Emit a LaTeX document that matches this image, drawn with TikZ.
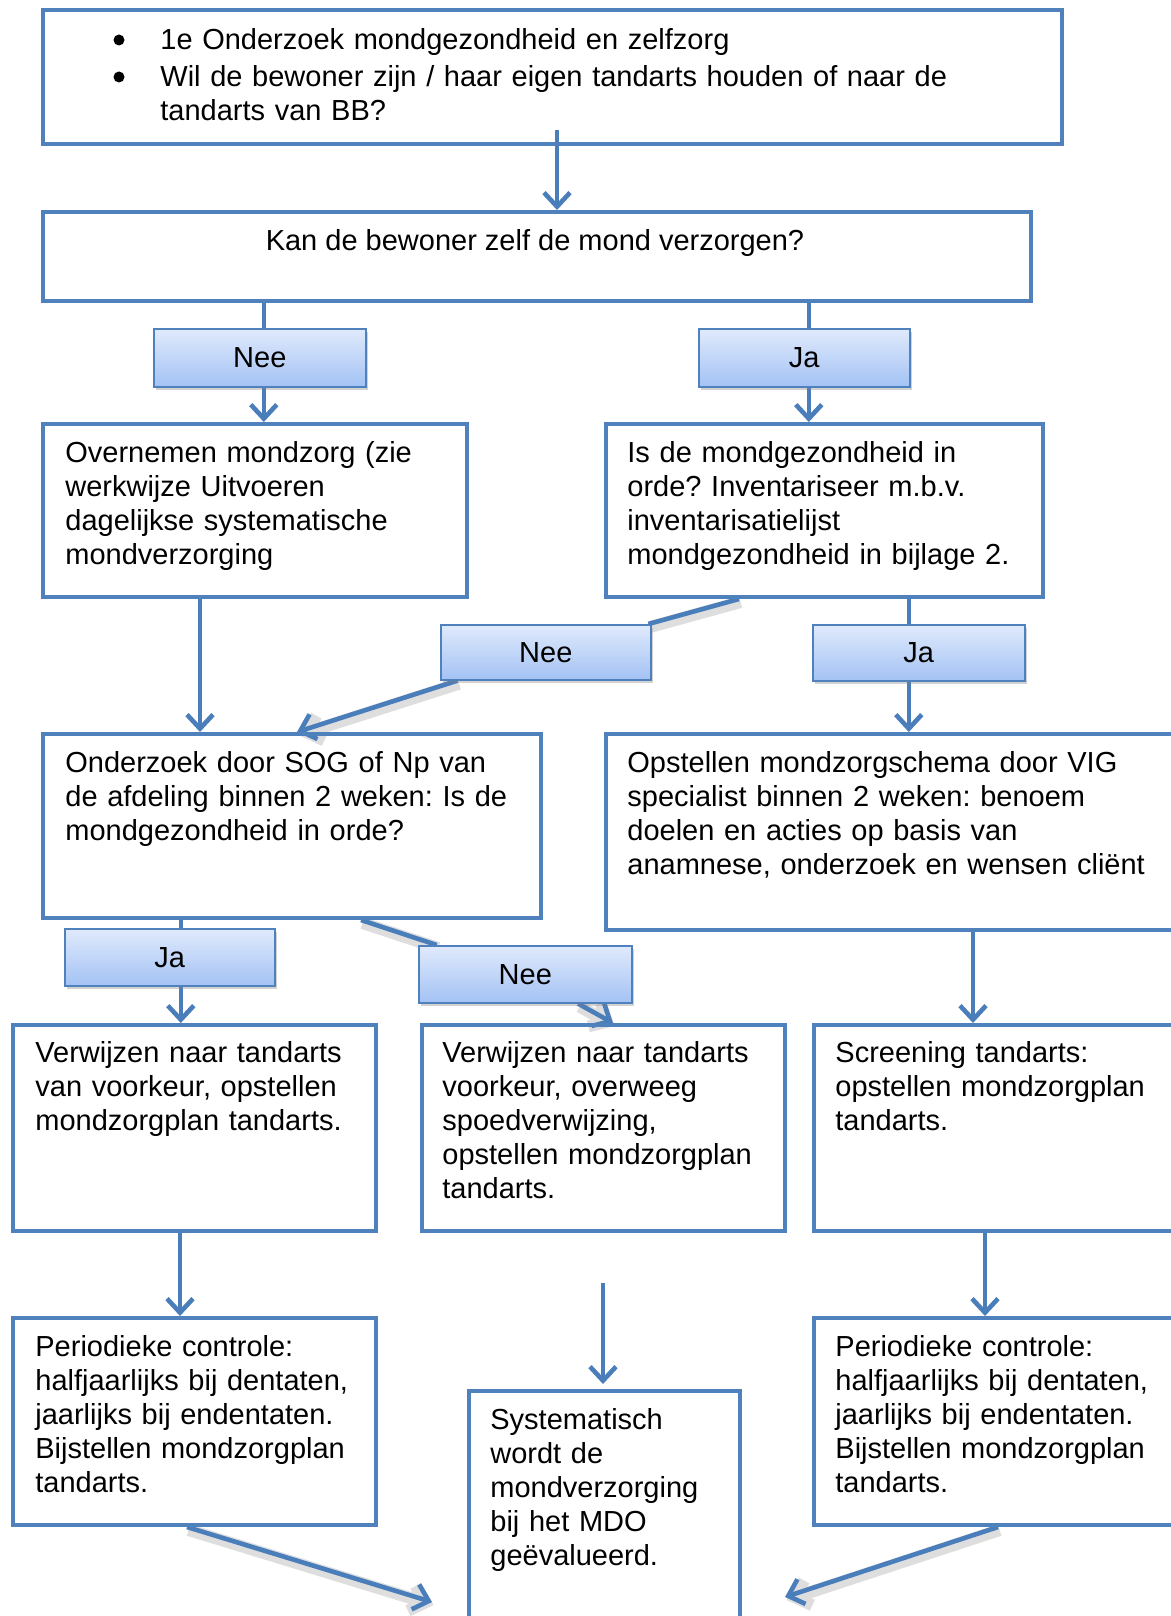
\documentclass[tikz,border=0pt]{standalone}
\usepackage{fontspec}
\setmainfont{Liberation Sans}
\usetikzlibrary{arrows.meta,calc,shadows,backgrounds}
\definecolor{boxblue}{HTML}{4F81BD}
\definecolor{linkblue}{HTML}{4A7EBB}
\definecolor{lbltop}{HTML}{E0EAFC}
\definecolor{lblbot}{HTML}{A3C2F4}
\frenchspacing
\begin{document}
\begin{tikzpicture}[x=0.5pt,y=-0.5pt,
  box/.style={draw=boxblue, line width=2pt, rectangle, inner sep=0pt, anchor=north west},
  sz/.style 2 args={minimum width=#1*0.5pt, minimum height=#2*0.5pt},
  lbl/.style={rectangle, draw=boxblue, line width=0.8pt, top color=lbltop, bottom color=lblbot,
     anchor=north west, inner sep=0pt, font={\fontsize{14.5}{17}\selectfont},
     drop shadow={opacity=0.35, shadow xshift=1pt, shadow yshift=-1.5pt}},
  txt/.style={anchor=base west, inner sep=0pt, text width=560pt, align=left,
     font={\fontsize{14.5}{17}\selectfont}},
  link/.style={draw=linkblue, line width=2.3pt},
  arr/.style={link, -{Straight Barb[length=7pt,width=13pt]}},
  halo/.style={preaction={draw=black!13, line width=6pt, transform canvas={xshift=0.8pt,yshift=-1.5pt}}},
]
\useasboundingbox (0,0) rectangle (1171,1616);
\clip (0,0) rectangle (1171,1616);

% boxes
\node[box, sz={1019}{134}] (b1) at (41,8) {};
\node[box, sz={988}{89}]   (b2) at (41,210) {};
\node[box, sz={424}{173}]  (b3) at (41,422) {};
\node[box, sz={437}{173}]  (b4) at (604,422) {};
\node[box, sz={498}{184}]  (b5) at (41,732) {};
\node[box, sz={590}{196}]  (b6) at (604,732) {};
\node[box, sz={363}{206}]  (b7) at (11,1023) {};
\node[box, sz={363}{206}]  (b8) at (420,1023) {};
\node[box, sz={380}{206}]  (b9) at (812,1023) {};
\node[box, sz={363}{207}]  (b10) at (11,1316) {};
\node[box, sz={271}{260}]  (b11) at (467,1389) {};
\node[box, sz={380}{207}]  (b12) at (812,1316) {};

% labels
\node[lbl, sz={212}{58}] (nee1) at (153,328) {Nee};
\node[lbl, sz={211}{58}] (ja1) at (698,328) {Ja};
\node[lbl, sz={210}{55}] (nee2) at (440,624) {Nee};
\node[lbl, sz={212}{56}] (ja2) at (812,624) {Ja};
\node[lbl, sz={210}{57}] (ja3) at (64,928) {Ja};
\node[lbl, sz={213}{57}] (nee3) at (418,945) {Nee};

% texts
\fill (119,40) circle (5.5);
\fill (119,77) circle (5.5);
\node[txt] (t1) at (160,50) {1e Onderzoek mondgezondheid en zelfzorg\\[1.2pt]Wil de bewoner zijn / haar eigen tandarts houden of naar de\\tandarts van BB?};
\node[anchor=base, inner sep=0pt, font={\fontsize{14.5}{17}\selectfont}] (t2) at (535,250) {Kan de bewoner zelf de mond verzorgen?};
\node[txt] (t3) at (65,462) {Overnemen mondzorg (zie\\werkwijze Uitvoeren\\dagelijkse systematische\\mondverzorging};
\node[txt] (t4) at (627,462) {Is de mondgezondheid in\\orde? Inventariseer m.b.v.\\inventarisatielijst\\mondgezondheid in bijlage 2.};
\node[txt] (t5) at (65,772) {Onderzoek door SOG of Np van\\de afdeling binnen 2 weken: Is de\\mondgezondheid in orde?};
\node[txt] (t6) at (627,772) {Opstellen mondzorgschema door VIG\\specialist binnen 2 weken: benoem\\doelen en acties op basis van\\anamnese, onderzoek en wensen cliënt};
\node[txt] (t7) at (35,1062) {Verwijzen naar tandarts\\van voorkeur, opstellen\\mondzorgplan tandarts.};
\node[txt] (t8) at (442,1062) {Verwijzen naar tandarts\\voorkeur, overweeg\\spoedverwijzing,\\opstellen mondzorgplan\\tandarts.};
\node[txt] (t9) at (835,1062) {Screening tandarts:\\opstellen mondzorgplan\\tandarts.};
\node[txt] (t10) at (35,1356) {Periodieke controle:\\halfjaarlijks bij dentaten,\\jaarlijks bij endentaten.\\Bijstellen mondzorgplan\\tandarts.};
\node[txt] (t11) at (490,1429) {Systematisch\\wordt de\\mondverzorging\\bij het MDO\\geëvalueerd.};
\node[txt] (t12) at (835,1356) {Periodieke controle:\\halfjaarlijks bij dentaten,\\jaarlijks bij endentaten.\\Bijstellen mondzorgplan\\tandarts.};

% connector points
\coordinate (a1s) at ($(b1.south)+(4.5,-16)$);
\coordinate (n1x) at ($(nee1.south)+(4,0)$);
\coordinate (j1x) at ($(ja1.south)+(4.5,0)$);
\coordinate (p3) at ($(b3.south west)+(159,0)$);
\coordinate (p4) at ($(b4.south west)+(135,0)$);
\coordinate (p5) at ($(b5.north west)+(256,0)$);
\coordinate (j2x) at ($(ja2.south)+(-10,0)$);
\coordinate (j3x) at ($(ja3.south)+(11,0)$);
\coordinate (p5b) at ($(b5.south west)+(320,0)$);
\coordinate (p8) at ($(b8.north west)+(193,0)$);
\coordinate (p6) at ($(b6.south west)+(369,0)$);
\coordinate (p7) at ($(b7.south west)+(169,0)$);
\coordinate (fs) at (603,1283);
\coordinate (fe) at (603,1384);
\coordinate (p9) at ($(b9.south west)+(173,0)$);
\coordinate (p10) at ($(b10.south west)+(176,0)$);
\coordinate (e10) at (432,1602);
\coordinate (p12) at ($(b12.south west)+(186,0)$);
\coordinate (e12) at (785,1597);

\begin{pgfonlayer}{background}
\fill[white] (0,0) rectangle (1171,1616);
\draw[arr] (a1s) -- (a1s |- b2.north);
\draw[link] (n1x |- b2.south) -- (n1x |- nee1.north);
\draw[arr] (n1x) -- (n1x |- b3.north);
\draw[link] (j1x |- b2.south) -- (j1x |- ja1.north);
\draw[arr] (j1x) -- (j1x |- b4.north);
\draw[arr] (p3) -- (p3 |- b5.north);
\draw[link, halo] (p4) -- (nee2);
\draw[arr, halo] (nee2) -- (p5);
\draw[link] (j2x |- b4.south) -- (j2x |- ja2.north);
\draw[arr] (j2x) -- (j2x |- b6.north);
\draw[link] (j3x |- b5.south) -- (j3x |- ja3.north);
\draw[arr] (j3x) -- (j3x |- b7.north);
\draw[link, halo] (p5b) -- (nee3);
\draw[arr, halo] (nee3) -- (p8);
\draw[arr] (p6) -- (p6 |- b9.north);
\draw[arr] (p7) -- (p7 |- b10.north);
\draw[arr] (fs) -- (fe);
\draw[arr] (p9) -- (p9 |- b12.north);
\draw[arr, halo] (p10) -- (e10);
\draw[arr, halo] (p12) -- (e12);
\end{pgfonlayer}
\end{tikzpicture}
\end{document}
